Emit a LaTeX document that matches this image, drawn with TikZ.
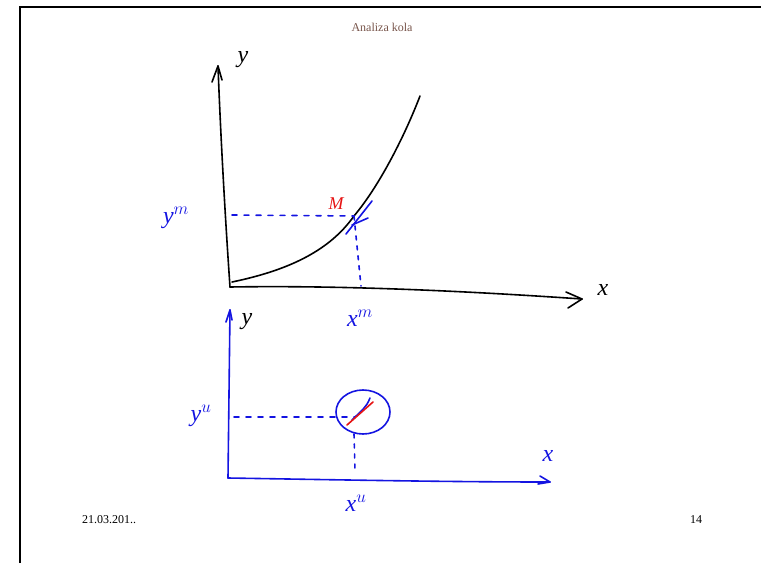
\documentclass[tikz,border=0pt]{standalone}
\usepackage{fontspec}
\setmainfont{Liberation Serif}
\usetikzlibrary{shapes.geometric}
\definecolor{pen}{RGB}{20,20,225}
\definecolor{redpen}{RGB}{230,20,20}
\definecolor{hdr}{RGB}{120,85,75}
\tikzset{
  ink/.style={line width=1.6pt, line cap=round, line join=round},
  blueink/.style={ink, draw=pen},
  lbl/.style={font=\fontsize{24}{24}\selectfont\itshape, inner sep=1pt},
  bluelbl/.style={lbl, text=pen},
  foot/.style={font=\fontsize{12}{12}\selectfont, inner sep=0pt},
  dashblue/.style={blueink, dash pattern=on 5pt off 7pt},
  dotblue/.style={blueink, dash pattern=on 4pt off 6pt}
}
\begin{document}
\begin{tikzpicture}[x=1pt,y=-1pt]
\useasboundingbox (0,0) rectangle (761,563);
% frame
\draw[line width=2.2pt] (20,563) -- (20,7) -- (761,7);
\node[foot, text=hdr] (title) at (382,27) {Analiza kola};
\node[foot, anchor=west] (date) at (82,520) {21.03.201..};
\node[foot] (page) at (696,520) {14};

% ---- top graph ----
\coordinate (O1) at (230,287);
\coordinate (Y1) at (218,66);
\coordinate (X1) at (582,299);
\draw[ink] (O1) .. controls (224,200) and (220,120) .. (Y1);
\draw[ink] (212,82) -- (Y1) -- (222,80);
\draw[ink] (O1) .. controls (350,285) and (480,292) .. (X1);
\draw[ink] (566,292) -- (X1) -- (568,308);
\node[lbl] (ylab1) at (243,60) {y};
\node[lbl] (xlab1) at (603,290) {x};
% curve
\coordinate (C0) at (232,282);
\coordinate (M) at (354,216);
\coordinate (C1) at (420,96);
\draw[ink] (C0) .. controls (290,270) and (330,250) .. (M) .. controls (380,185) and (405,135) .. (C1);
% projections
\coordinate (ym) at (232,215);
\coordinate (xm) at (361,286);
\draw[dashblue] (ym) -- (M);
\draw[dotblue] (M) -- (xm);
\draw[blueink] (346,234) -- (372,201);
\draw[blueink] (352,225) -- (368,218);
\node[lbl, text=redpen, font=\fontsize{18}{18}\selectfont\itshape] (Mlab) at (336,204) {M};
\node[bluelbl] (ylabm) at (176,218) {y$^{m}$};
\node[bluelbl] (xlabm) at (360,318) {x$^{m}$};

% ---- bottom graph ----
\coordinate (O2) at (228,478);
\coordinate (Y2) at (230,310);
\coordinate (X2) at (550,482);
\draw[blueink] (O2) -- (Y2);
\draw[blueink] (226,322) -- (Y2) -- (232,320);
\draw[blueink] (O2) .. controls (350,480) and (450,482) .. (X2);
\draw[blueink] (540,476) -- (X2) -- (538,484);
\node[lbl] (ylab2) at (247,322) {y};
\node[bluelbl] (xlab2) at (548,456) {x};
\node[draw=pen, line width=1.6pt, ellipse, minimum width=54pt, minimum height=44pt, inner sep=0pt] (circ) at (363,412) {};
\coordinate (P) at (355,417);
\draw[dashblue] (234,417) -- (P);
\draw[dotblue] (354,434) -- (355,470);
\draw[blueink] (352,420) .. controls (362,410) and (366,408) .. (370,398);
\draw[line width=1.6pt, draw=redpen, line cap=round] (347,425) -- (373,402);
\node[bluelbl] (ylabu) at (201,416) {y$^{u}$};
\node[bluelbl] (xlabu) at (356,503) {x$^{u}$};
\end{tikzpicture}
\end{document}
